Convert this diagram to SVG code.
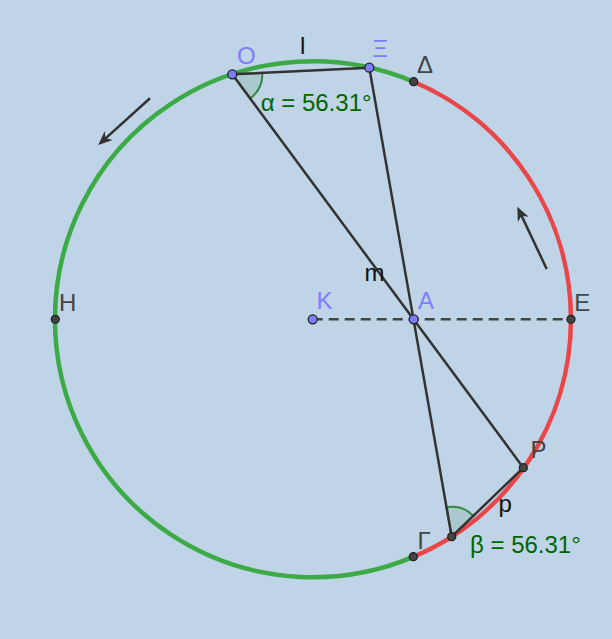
<svg xmlns="http://www.w3.org/2000/svg" width="612" height="639" viewBox="0 0 612 639">
<style>
.lbl{font-family:"Liberation Sans",Arial,sans-serif;font-size:24px}
.blue{fill:#7d7dff}
.gray{fill:#444444}
.blk{fill:#111111}
.grn{fill:#006400}
.seg{stroke:#333333;stroke-width:2.5;fill:none;stroke-linecap:round}
.ang{fill:#acc8cf;stroke:#2e8b3e;stroke-width:2}
.pb{fill:#7d7dff;stroke:#222;stroke-width:1.3}
.pd{fill:#444;stroke:#222;stroke-width:1.3}
.vec{stroke:#333333;stroke-width:2.5;fill:none}
</style>
<defs>
<marker id="ah" markerUnits="userSpaceOnUse" markerWidth="16" markerHeight="14" refX="6" refY="6" orient="auto" overflow="visible">
<path d="M14,6 L0,0 L4,6 L0,12 Z" fill="#333333"/>
</marker>
</defs>
<rect width="612" height="639" fill="#bfd4e6"/>
<g id="circle">
<path d="M413.3,556.9 A258,258 0 1 1 413.7,81.7" fill="none" stroke="#3caa46" stroke-width="4.5"/>
<path d="M413.7,81.7 A258,258 0 0 1 413.3,556.9" fill="none" stroke="#e94649" stroke-width="4.5"/>
</g>
<g id="angles">
<path class="ang" d="M232.3,74.3 L262.3,72.9 A30,30 0 0 1 250.1,98.4 Z"/>
<path class="ang" d="M451.7,536.7 L446.5,507.2 A30,30 0 0 1 473.3,515.9 Z"/>
</g>
<g id="connectors">
<line class="seg" x1="232.3" y1="74.3" x2="369.3" y2="67.7"/>
<line class="seg" x1="232.3" y1="74.3" x2="523.3" y2="467.7"/>
<line class="seg" x1="369.3" y1="67.7" x2="451.7" y2="536.7"/>
<line class="seg" x1="451.7" y1="536.7" x2="523.3" y2="467.7" stroke="#1a1a1a"/>
<line x1="312.7" y1="319.3" x2="571" y2="319.3" stroke="#444" stroke-width="2.5" stroke-dasharray="10,6"/>
<line class="vec" x1="150" y1="98.3" x2="104.2" y2="139.6" marker-end="url(#ah)"/>
<line class="vec" x1="546.7" y1="269" x2="520.7" y2="213.9" marker-end="url(#ah)"/>
</g>
<g id="point-O"><circle class="pb" cx="232.3" cy="74.3" r="4.5"/><text class="lbl blue" x="237" y="64">Ο</text></g>
<g id="point-Xi"><circle class="pb" cx="369.3" cy="67.7" r="4.5"/><text class="lbl blue" x="372.5" y="57">Ξ</text></g>
<g id="point-Delta"><circle class="pd" cx="413.7" cy="81.7" r="4"/><text class="lbl gray" x="417" y="73">Δ</text></g>
<g id="point-K"><circle class="pb" cx="312.7" cy="319.3" r="4.5"/><text class="lbl blue" x="316.5" y="309">K</text></g>
<g id="point-A"><circle class="pb" cx="413.7" cy="319.3" r="4.5"/><text class="lbl blue" x="418" y="309">A</text></g>
<g id="point-E"><circle class="pd" cx="571" cy="319.3" r="4"/><text class="lbl gray" x="574.3" y="311">E</text></g>
<g id="point-H"><circle class="pd" cx="55.3" cy="319.3" r="4"/><text class="lbl gray" x="59" y="311">H</text></g>
<g id="point-P"><circle class="pd" cx="523.3" cy="467.7" r="4"/><text class="lbl gray" x="530.5" y="458">Ρ</text></g>
<g id="point-Gamma-arc"><circle class="pd" cx="413.3" cy="556.7" r="4"/><text class="lbl gray" x="417.5" y="549">Γ</text></g>
<g id="point-Gamma"><circle class="pd" cx="451.7" cy="536.7" r="4"/></g>
<g id="texts">
<text class="lbl blk" x="300" y="54">l</text>
<text class="lbl grn" x="260.7" y="111">α = 56.31°</text>
<text class="lbl blk" x="364.5" y="281">m</text>
<text class="lbl blk" x="498.4" y="512">p</text>
<text class="lbl grn" x="470" y="553">β = 56.31°</text>
</g>
</svg>
